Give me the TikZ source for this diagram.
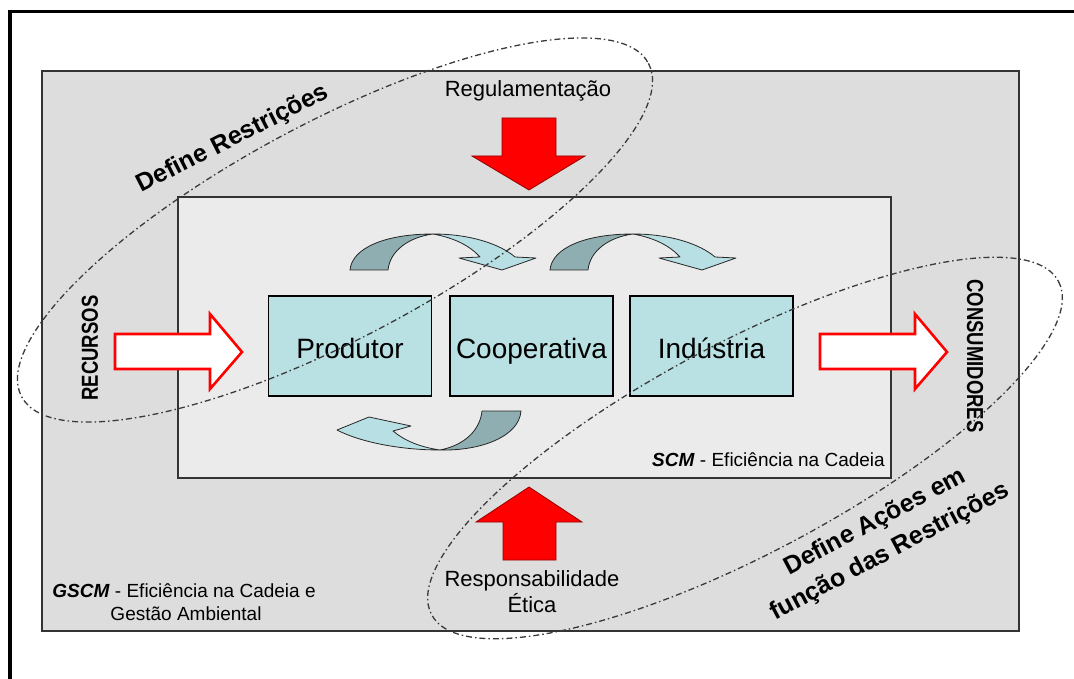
\documentclass[tikz,border=0pt]{standalone}
\usepackage{fontspec}
\setmainfont{Liberation Sans}
\definecolor{outergray}{HTML}{DDDDDD}
\definecolor{innergray}{HTML}{EBEBEB}
\definecolor{boxcyan}{HTML}{B9E0E3}
\definecolor{arrdark}{HTML}{8EAEB1}
\definecolor{arrlight}{HTML}{B8DFE3}
\definecolor{ellgray}{HTML}{3A3A3A}
\definecolor{bordergray}{HTML}{333333}
\begin{document}
\begin{tikzpicture}[x=1pt,y=-1pt,
  arearect/.style={draw=bordergray, line width=1.3pt, inner sep=0pt},
  procbox/.style={draw=black, fill=boxcyan, line width=1.1pt, minimum width=163pt, minimum height=100pt, inner sep=0pt, text height=27pt, text depth=3pt, font=\fontsize{28}{32}\selectfont},
  plaintext/.style={inner sep=0pt, font=\fontsize{22}{26}\selectfont},
  smalltext/.style={inner sep=0pt, font=\fontsize{19}{23}\selectfont},
  boldtext/.style={inner sep=0pt, font=\fontsize{25}{29}\selectfont\bfseries},
  sidetext/.style={inner sep=0pt, font=\fontsize{18.5}{22}\selectfont\bfseries},
  redarrow/.style={fill=red, draw={rgb,255:red,150;green,0;blue,0}, line width=0.8pt},
  whitearrow/.style={fill=white, draw=red, line width=2.6pt, line join=miter},
  darkpart/.style={fill=arrdark, draw=black!85, line width=0.8pt, line join=round},
  lightpart/.style={fill=arrlight, draw=black!85, line width=0.8pt, line join=round},
  dashdot/.style={draw=ellgray, line width=1.3pt, dash pattern=on 6pt off 3pt on 1.5pt off 3pt}
]
\useasboundingbox (0,0) rectangle (1074,679);
\fill[white] (0,0) rectangle (1074,679);
% outer frame (clipped at right and bottom)
\draw[line width=3.5pt] (10,679) -- (10,11.5) -- (1074,11.5);

% GSCM area and SCM area
\node[arearect, fill=outergray, minimum width=977pt, minimum height=560pt] (gscm) at (530.5,351) {};
\node[arearect, fill=innergray, minimum width=713pt, minimum height=281pt] (scm) at (534.5,337.5) {};

% process boxes
\node[procbox] (prod) at (350,346) {Produtor};
\node[procbox] (coop) at (531.5,346) {Cooperativa};
\node[procbox] (ind) at (711.5,346) {Indústria};

% curved arrows (top)
\foreach \dx in {0,200}{
  \begin{scope}[xshift=\dx pt]
  \path[darkpart] (350,270) .. controls (352,248) and (385,234) .. (433,234)
        .. controls (410,237) and (390,250) .. (388,270) -- cycle;
  \path[lightpart] (433,234) .. controls (470,234) and (500,244) .. (515,257)
        -- (536,258) -- (502,270) -- (459,258) -- (480,257)
        .. controls (470,246) and (455,238) .. (433,234) -- cycle;
  \end{scope}
}
% curved arrow (bottom)
\path[darkpart] (482,411) -- (521,411) .. controls (519,437) and (480,451) .. (440,450)
      .. controls (465,445) and (480,430) .. (482,411) -- cycle;
\path[lightpart] (440,450) .. controls (400,450) and (360,442) .. (337,430)
      -- (369,417) -- (411,426) -- (393,431)
      .. controls (405,441) and (420,447) .. (440,450) -- cycle;

% red arrows
\path[redarrow] (502,118) -- (556,118) -- (556,156) -- (585,156) -- (529,190)
      -- (472,156) -- (502,156) -- cycle;
\path[redarrow] (503,560) -- (556,560) -- (556,522) -- (582,522) -- (529,487)
      -- (476,522) -- (503,522) -- cycle;

% white arrows
\path[whitearrow] (115,334) -- (210,334) -- (210,314) -- (242,352) -- (210,389)
      -- (210,369) -- (115,369) -- cycle;
\path[whitearrow] (820,334) -- (915,334) -- (915,314) -- (947,352) -- (915,389)
      -- (915,369) -- (820,369) -- cycle;

% labels
\node[plaintext, anchor=base] (reg) at (528,97) {Regulamentação};
\node[plaintext, anchor=base] (resp) at (532,586) {Responsabilidade};
\node[plaintext, anchor=base] (etica) at (532,612) {Ética};
\node[smalltext, anchor=base east] (scmlab) at (885,466) {\textbf{\textit{SCM}} - Eficiência na Cadeia};
\node[smalltext, anchor=base] (gscmlab1) at (184,597) {\textbf{\textit{GSCM}} - Eficiência na Cadeia e};
\node[smalltext, anchor=base] (gscmlab2) at (186,620) {Gestão Ambiental};
\node[sidetext, rotate=90] (rec) at (90,348) {\scalebox{1}[1.25]{RECURSOS}};
\node[sidetext, rotate=-90] (cons) at (975,356) {\scalebox{1}[1.25]{CONSUMIDORES}};
\node[boldtext, rotate=27, anchor=base] (defr) at (236,145) {Define Restrições};
\node[boldtext, rotate=28, anchor=base] (defa1) at (878,528) {Define Ações em};
\node[boldtext, rotate=28, anchor=base] (defa2) at (893,558) {função das Restrições};

% dash-dot ellipses
\draw[dashdot, rotate around={28:(335,230)}] (335,230) ellipse [x radius=355, y radius=108];
\draw[dashdot, rotate around={28:(745,448)}] (745,448) ellipse [x radius=355, y radius=105];
\end{tikzpicture}
\end{document}
